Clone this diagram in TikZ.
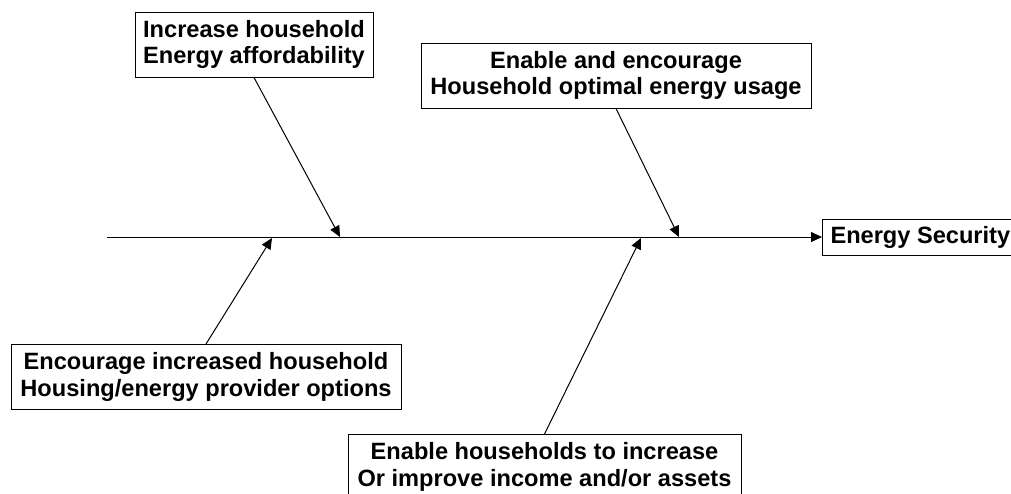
\documentclass[tikz,border=0pt]{standalone}
\usepackage{fontspec}
\setmainfont{Liberation Sans}
\usetikzlibrary{arrows.meta}

\begin{document}
\begin{tikzpicture}[line width = 0.5pt,
                    x = 0.5pt,
                    y = -0.5pt,
                    > = {Triangle[length = 5.5pt, width = 5pt]},
                    cause/.style = {draw, align = center, inner xsep = 0pt, inner ysep = 0pt,
                                    minimum height = 32.5pt,
                                    font = \bfseries\fontsize{11.8}{13.3}\selectfont}]

    \useasboundingbox (0,0) rectangle (1011,493);

    % causes
    \node[cause, minimum width = 119pt] (afford) at (254,44.5) {Increase household\\Energy affordability};
    \node[cause, minimum width = 195pt] (usage) at (616,75.5) {Enable and encourage\\Household optimal energy usage};
    \node[cause, minimum width = 195pt] (options) at (206,377) {Encourage increased household\\Housing/energy provider options};
    \node[cause, minimum width = 196.5pt] (income) at (544.5,467) {Enable households to increase\\Or improve income and/or assets};
    \node[cause, minimum height = 18pt, inner xsep = 4pt, anchor = west] (security) at (822,237) {Energy Security};

    % spine
    \coordinate (tail) at (107,237);
    \coordinate (A) at (340,237);
    \coordinate (B) at (679,237);
    \coordinate (C) at (272,238);
    \coordinate (D) at (641,238);

    \draw[->] (tail) -- (security);

    \foreach \i/\j in {afford.south/A,
                       usage.south/B,
                       options.north/C,
                       income.north/D}
    {
        \draw[->] (\i) -- (\j);
    }
\end{tikzpicture}
\end{document}
